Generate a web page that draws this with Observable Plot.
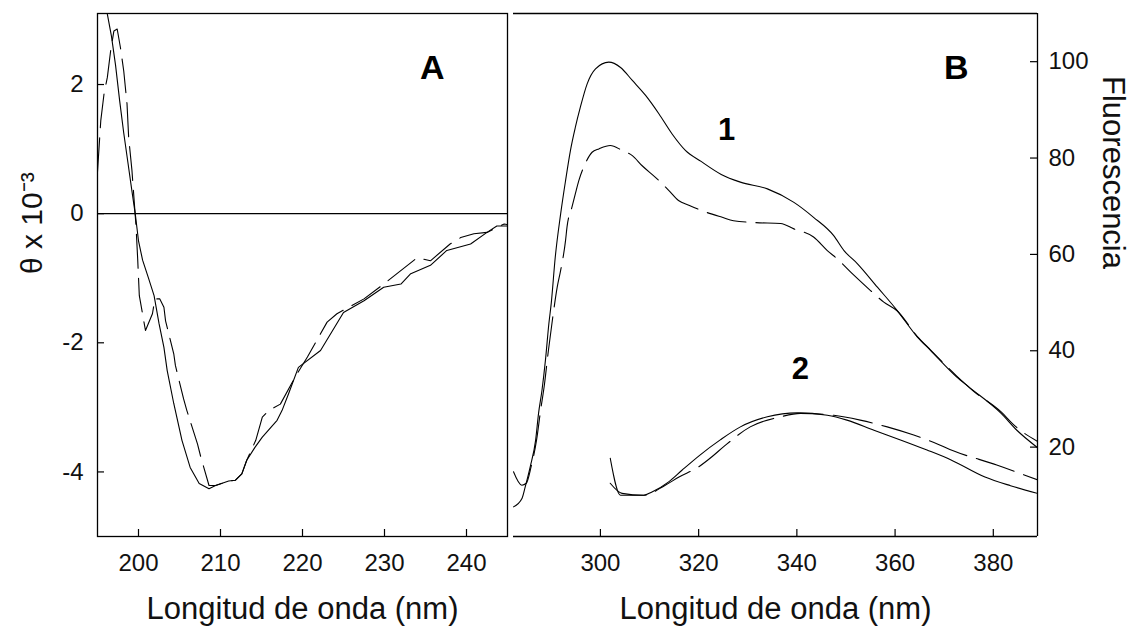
<!DOCTYPE html>
<html>
<head>
<meta charset="utf-8">
<script src="https://cdn.jsdelivr.net/npm/d3@7"></script>
<script src="https://cdn.jsdelivr.net/npm/@observablehq/plot@0.6"></script>
<style>
  html, body { margin: 0; padding: 0; background: #fff; }
  #wrap { position: relative; width: 1132px; height: 633px; overflow: hidden; background: #fff; }
  #panelA, #panelB { position: absolute; top: 0; }
  #panelA { left: 0; }
  #panelB { left: 510px; }
</style>
</head>
<body>
<div id="wrap"><div id="panelA"></div><div id="panelB"></div></div>
<script>
// ---------- Panel A: CD spectrum ----------
const xTitle = "Longitud de onda (nm)";
const yTitleA = "θ x 10⁻³";
const panelLabelA = "A";
const xDomainA = [195, 245];
const yDomainA = [-5, 3.1];
const xTicksA = [200, 210, 220, 230, 240];
const yTicksA = [-4, -2, 0, 2];

// solid curve A  [nm, theta x 10^-3]
const cdSolid = [
  [195.8, 3.35], [196.2, 3.09], [196.7, 2.75], [197.2, 2.3], [197.7, 1.75], [198.2, 1.25],
  [198.7, 0.8], [199.2, 0.35], [199.6, 0.0], [200.0, -0.42], [200.5, -0.72], [201.2, -0.99],
  [201.9, -1.27], [202.5, -1.7], [203.1, -2.07], [203.5, -2.43], [204.3, -2.94], [205.3, -3.51],
  [206.3, -3.93], [207.4, -4.18], [208.6, -4.26], [209.4, -4.21], [211.0, -4.14], [211.8, -4.13],
  [212.6, -4.03], [213.2, -3.82], [214.2, -3.62], [215.1, -3.46], [216.9, -3.2], [217.5, -3.05],
  [218.3, -2.79], [219.5, -2.38], [222.2, -2.12], [225.0, -1.53], [227.5, -1.35], [229.9, -1.14],
  [232.0, -1.09], [233.2, -0.93], [235.6, -0.8], [237.6, -0.57], [240.5, -0.47], [242.5, -0.29],
  [243.7, -0.19], [245.0, -0.19]
];
// dashed curve A
const cdDashed = [
  [195.0, 0.65], [195.4, 1.44], [195.8, 1.86], [196.2, 2.11], [196.6, 2.52], [197.0, 2.83],
  [197.4, 2.86], [197.8, 2.57], [198.2, 2.21], [198.6, 1.7], [198.8, 1.18], [199.2, 0.67],
  [199.5, 0.15], [199.7, -0.2], [199.9, -0.7], [200.1, -1.27], [200.85, -1.81], [201.7, -1.55],
  [202.0, -1.32], [202.6, -1.32], [203.1, -1.45], [203.3, -1.66], [204.3, -2.17], [204.5, -2.35],
  [205.5, -2.87], [205.9, -3.05], [207.2, -3.57], [207.6, -3.77], [208.6, -4.21], [209.4, -4.21],
  [211.0, -4.14], [211.8, -4.13], [212.6, -4.03], [213.2, -3.82], [214.3, -3.51], [215.1, -3.15],
  [215.9, -3.05], [217.3, -2.95], [219.1, -2.53], [220.6, -2.22], [223.0, -1.68], [224.2, -1.55],
  [227.5, -1.32], [229.9, -1.09], [234.0, -0.68], [235.6, -0.73], [238.0, -0.47], [239.3, -0.37],
  [240.9, -0.31], [242.5, -0.29], [244.6, -0.16], [245.0, -0.17]
];

// ---------- Panel B: fluorescence ----------
const yTitleB = "Fluorescencia";
const panelLabelB = "B";
const xDomainB = [282.3, 389];
const yDomainB = [1.45, 110];
const xTicksB = [300, 320, 340, 360, 380];
const yTicksB = [20, 40, 60, 80, 100];
const curveLabels = ["1", "2"];
const curveLabelX = [325.7, 340.7];
const curveLabelY = [85.9, 36.3];

const fl1Solid = [
  [282.3, 7.6], [284.05, 9.4], [284.7, 11.8], [285.7, 15.9], [286.8, 21.4], [287.4, 27.0],
  [288.1, 31.8], [288.8, 38.0], [289.5, 45.6], [290.0, 50.0], [290.8, 59.4], [291.9, 68.4],
  [292.9, 75.3], [293.9, 81.6], [294.9, 86.4], [295.9, 90.5], [297.3, 95.4], [299.0, 98.5],
  [301.7, 99.9], [304.1, 98.8], [306.5, 96.1], [309.2, 93.0], [311.9, 89.2], [314.6, 85.0],
  [317.3, 81.6], [320.5, 79.3], [324.6, 76.6], [328.5, 75.0], [334.0, 73.6], [339.4, 70.8],
  [343.4, 67.7], [347.5, 63.9], [349.6, 60.8], [352.3, 58.1], [356.4, 53.2], [360.4, 48.4],
  [364.5, 42.9], [367.2, 40.1], [372.5, 34.6], [375.0, 32.5], [381.6, 27.0], [384.8, 23.5],
  [389.0, 19.9]
];
const fl1Dashed = [
  [282.3, 14.9], [284.0, 12.1], [284.9, 12.5], [285.9, 16.0], [287.0, 21.5], [287.8, 27.5],
  [288.6, 33.0], [289.4, 40.0], [290.3, 47.0], [291.2, 53.2], [291.9, 56.7], [292.9, 62.9],
  [293.2, 65.7], [294.2, 69.8], [294.9, 72.6], [295.6, 75.3], [296.9, 78.8], [298.3, 81.2],
  [299.7, 81.9], [302.0, 82.6], [304.4, 81.6], [306.5, 80.5], [308.5, 78.4], [311.2, 76.0],
  [313.9, 73.3], [315.9, 71.2], [318.0, 70.2], [320.6, 69.1], [324.8, 67.7], [327.1, 67.0],
  [331.5, 66.6], [336.7, 66.4], [339.4, 65.3], [343.4, 63.6], [346.2, 60.8], [348.2, 59.1],
  [351.5, 55.8], [355.0, 52.5], [357.7, 50.1], [360.4, 48.3], [364.5, 43.0], [367.2, 40.2],
  [372.5, 34.8], [376.0, 31.6], [381.6, 27.3], [384.4, 24.4], [389.0, 21.2]
];
const fl2Solid = [
  [302.0, 17.7], [304.1, 10.0], [308.8, 10.0], [310.5, 10.7], [313.9, 12.8], [316.6, 15.2],
  [320.2, 18.3], [324.4, 21.5], [328.5, 24.2], [334.0, 26.3], [340.1, 27.1], [346.2, 26.6],
  [350.2, 25.6], [355.7, 23.5], [361.1, 21.5], [366.5, 19.4], [371.3, 17.4], [378.3, 13.8],
  [383.5, 12.0], [389.0, 10.4]
];
const fl2Dashed = [
  [302.0, 12.5], [304.4, 10.4], [308.8, 10.0], [313.2, 12.1], [316.0, 13.8], [320.0, 15.9],
  [322.7, 18.0], [325.1, 20.1], [330.5, 24.2], [336.7, 26.3], [340.7, 27.0], [347.5, 26.6],
  [352.9, 25.6], [358.4, 24.2], [363.8, 22.5], [369.2, 20.4], [371.7, 19.3], [380.7, 16.3],
  [389.0, 13.2]
];

const FONT = "'Liberation Sans', Arial, Helvetica, sans-serif";
const INK = "#000";
const TXT = "#111";
const tickLen = 7;

function panelStyle() {
  return { fontFamily: FONT, fontSize: "24px", color: TXT, background: "#fff", overflow: "visible" };
}

// ---- A ----
const wA = 510, hA = 633, mlA = 97, mrA = 3, mtA = 13, mbA = 97;
const frameWA = wA - mlA - mrA, frameHA = hA - mtA - mbA;
const plotA = Plot.plot({
  width: wA, height: hA,
  marginLeft: mlA, marginRight: mrA, marginTop: mtA, marginBottom: mbA,
  x: { domain: xDomainA },
  y: { domain: yDomainA },
  style: panelStyle(),
  marks: [
    Plot.frame({ stroke: INK, strokeWidth: 1.3 }),
    Plot.ruleY([0], { stroke: INK, strokeWidth: 1.3 }),
    Plot.tickX(xTicksA, { x: d => d, insetTop: frameHA - tickLen, stroke: INK, strokeWidth: 1.2 }),
    Plot.tickY(yTicksA, { y: d => d, insetRight: frameWA - tickLen, stroke: INK, strokeWidth: 1.2 }),
    Plot.axisX(xTicksA, { tickSize: 0, tickPadding: 17, fontSize: 24, label: null, tickFormat: d => String(d) }),
    Plot.axisY(yTicksA, { tickSize: 0, tickPadding: 14, fontSize: 24, label: null, tickFormat: d => String(d) }),
    Plot.line(cdSolid, { x: d => d[0], y: d => d[1], stroke: INK, strokeWidth: 1.1, clip: true }),
    Plot.line(cdDashed, { x: d => d[0], y: d => d[1], stroke: INK, strokeWidth: 1.1, strokeDasharray: "34,10", clip: true }),
    Plot.text([panelLabelA], { frameAnchor: "top-right", dx: -63, dy: 41, fontSize: 34, fontWeight: "bold", fill: INK }),
    Plot.text([xTitle], { frameAnchor: "bottom", dy: 82, fontSize: 31, fill: TXT }),
    Plot.text([yTitleA], { frameAnchor: "left", dx: -65, dy: -1, rotate: -90, fontSize: 30, fill: TXT })
  ]
});
document.getElementById("panelA").appendChild(plotA);

// ---- B ----
const wB = 622, hB = 633, mlB = 3, mrB = 95, mtB = 13, mbB = 97;
const frameWB = wB - mlB - mrB, frameHB = hB - mtB - mbB;
const plotB = Plot.plot({
  width: wB, height: hB,
  marginLeft: mlB, marginRight: mrB, marginTop: mtB, marginBottom: mbB,
  x: { domain: xDomainB },
  y: { domain: yDomainB },
  style: panelStyle(),
  marks: [
    Plot.ruleY([yDomainB[1]], { stroke: INK, strokeWidth: 1.3 }),
    Plot.ruleY([yDomainB[0]], { stroke: INK, strokeWidth: 1.3 }),
    Plot.ruleX([xDomainB[1]], { stroke: INK, strokeWidth: 1.3 }),
    Plot.tickX(xTicksB, { x: d => d, insetTop: frameHB - tickLen, stroke: INK, strokeWidth: 1.2 }),
    Plot.tickY(yTicksB, { y: d => d, insetLeft: frameWB - tickLen, stroke: INK, strokeWidth: 1.2 }),
    Plot.axisX(xTicksB, { tickSize: 0, tickPadding: 17, fontSize: 24, label: null, tickFormat: d => String(d) }),
    Plot.axisY(yTicksB, { anchor: "right", tickSize: 0, tickPadding: 11, fontSize: 24, label: null, tickFormat: d => String(d) }),
    Plot.line(fl1Solid, { x: d => d[0], y: d => d[1], stroke: INK, strokeWidth: 1.1, curve: "monotone-x", clip: true }),
    Plot.line(fl1Dashed, { x: d => d[0], y: d => d[1], stroke: INK, strokeWidth: 1.1, curve: "monotone-x", strokeDasharray: "40,10", clip: true }),
    Plot.line(fl2Solid, { x: d => d[0], y: d => d[1], stroke: INK, strokeWidth: 1.1, curve: "monotone-x", clip: true }),
    Plot.line(fl2Dashed, { x: d => d[0], y: d => d[1], stroke: INK, strokeWidth: 1.1, curve: "monotone-x", strokeDasharray: "40,10", clip: true }),
    Plot.text([panelLabelB], { frameAnchor: "top-right", dx: -69, dy: 41, fontSize: 34, fontWeight: "bold", fill: INK }),
    Plot.text(curveLabels, { x: (d, i) => curveLabelX[i], y: (d, i) => curveLabelY[i], text: d => d, fontSize: 31, fontWeight: "bold", fill: INK }),
    Plot.text([xTitle], { frameAnchor: "bottom", dy: 82, fontSize: 31, fill: TXT }),
    Plot.text([yTitleB], { frameAnchor: "right", dx: 75, dy: -6, rotate: 90, fontSize: 31, fill: TXT })
  ]
});
document.getElementById("panelB").appendChild(plotB);
</script>
</body>
</html>
